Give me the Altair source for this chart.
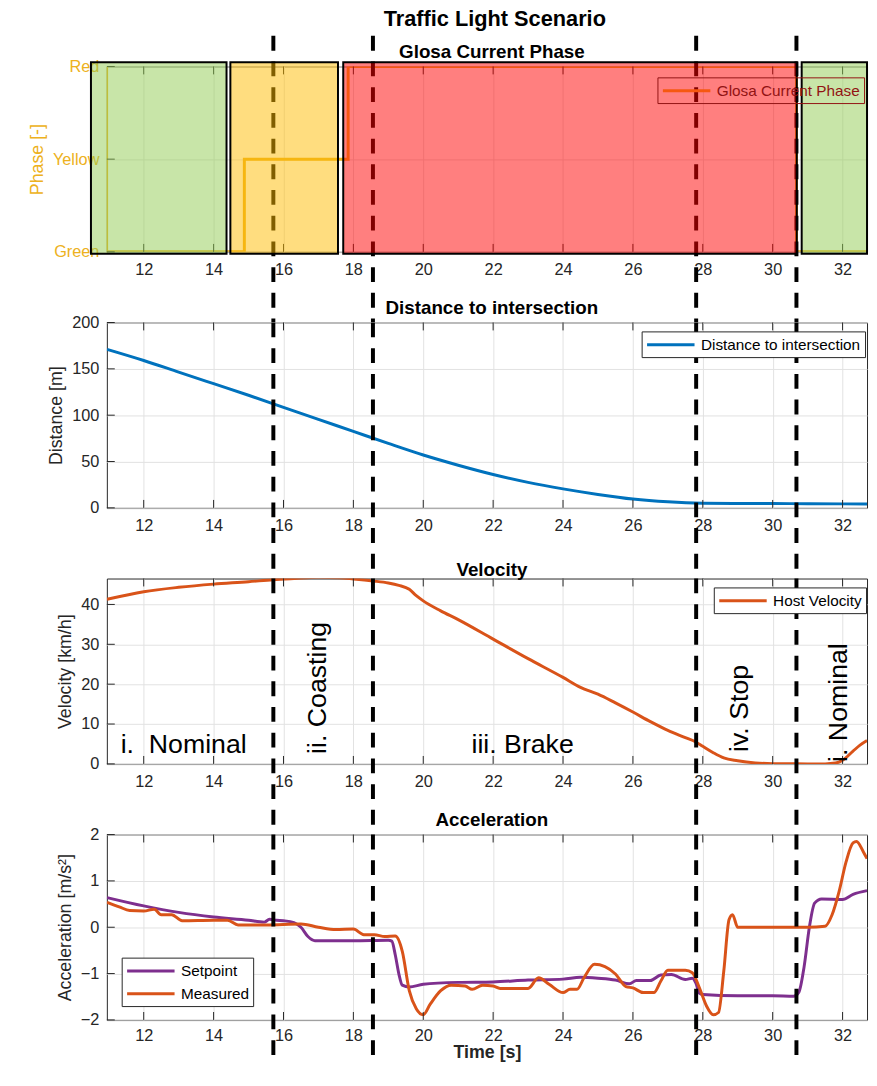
import altair as alt
import pandas as pd

# ---------------- data ----------------
x_ticks = [12, 14, 16, 18, 20, 22, 24, 26, 28, 30, 32]
x_domain = [10.945, 32.70]

phase_levels = [0, 1, 2]
phase_names = ["Green", "Yellow", "Red"]
phase_step_t = [10.95, 14.88, 17.85, 30.68, 32.70]
phase_step_v = [0, 1, 2, 0, 0]

light_names = ["Green", "Yellow", "Red", "Green"]
light_start = [10.49, 14.48, 17.71, 30.83]
light_end = [14.37, 17.56, 30.69, 32.70]
light_colors = ["#92CB51", "#FFBB00", "#FF0000", "#92CB51"]
light_low = -0.02
light_high = 2.045

boundary_t = [15.71, 18.56, 27.81, 30.68]

dist_t = [10.95, 12, 13, 14, 15, 16, 17, 18, 19, 20, 21, 22, 23, 24, 25, 26, 27, 28, 29, 30, 31, 32, 32.70]
dist_v = [171, 159, 146.5, 134, 121.5, 108.5, 95.5, 82.5, 69.5, 57, 46, 36, 27.5, 20.5, 14.5, 9.5, 6.5, 5, 4.7, 4.6, 4.5, 4.3, 4.05]

vel_t = [10.95, 12, 13, 14, 15, 15.7, 16.3, 17, 17.6, 18, 18.56, 19, 19.3, 19.6, 19.8, 20, 20.5, 21, 22, 23, 24,
         24.5, 25, 25.5, 26, 26.5, 27, 27.5, 27.8, 28, 28.3, 28.6, 29, 29.5, 30, 31, 31.5, 31.8, 32, 32.3, 32.5, 32.70]
vel_v = [41.3, 43.2, 44.3, 45.1, 45.7, 46.2, 46.5, 46.8, 46.7, 46.4, 45.9, 45.4, 44.8, 43.8, 42.2, 40.9, 38.4, 36.2, 31.3, 26.4, 21.7,
         19.2, 17.5, 15.3, 13, 10.6, 8.4, 6.6, 5.5, 4.4, 2.8, 1.5, 0.8, 0.25, 0.05, 0, 0, 0.2, 0.9, 3.2, 4.7, 5.85]

sp_t = [10.95, 12, 13, 14, 15, 15.45, 15.6, 15.8, 16, 16.3, 16.5, 16.7, 16.9, 18, 19, 19.1, 19.2, 19.3, 19.4, 19.6, 20,
        21, 22, 23, 24, 24.5, 25, 25.5, 25.9, 26.1, 26.5, 26.8, 27.1, 27.5, 27.7, 27.8, 27.9, 28, 29, 30, 30.6, 30.75,
        30.9, 31.05, 31.2, 31.4, 32, 32.3, 32.70]
sp_v = [0.64, 0.46, 0.32, 0.22, 0.15, 0.11, 0.17, 0.15, 0.14, 0.1, 0.0, -0.2, -0.29, -0.29, -0.28, -0.3, -0.6, -1.0, -1.25, -1.29, -1.23,
        -1.19, -1.18, -1.14, -1.12, -1.08, -1.1, -1.14, -1.22, -1.15, -1.15, -1.03, -1.02, -1.13, -1.1, -1.2, -1.42, -1.45, -1.48, -1.48, -1.49, -1.4,
        -0.85, 0.0, 0.52, 0.61, 0.6, 0.71, 0.79]

ms_t = [10.95, 11.3, 11.6, 12, 12.3, 12.5, 12.8, 13.1, 14, 14.4, 14.7, 15.5, 16.5, 17, 17.5, 18, 18.3, 18.6, 18.9, 19.2,
        19.4, 19.6, 19.8, 20, 20.2, 20.5, 20.8, 21.2, 21.4, 21.7, 22, 22.2, 23, 23.3, 23.6, 24, 24.2, 24.4, 24.6, 24.9,
        25.2, 25.5, 25.8, 26, 26.3, 26.6, 26.8, 27, 27.5, 27.7, 27.9, 28.1, 28.3, 28.45, 28.6, 28.75, 28.85, 29, 30,
        31, 31.5, 31.7, 31.9, 32.1, 32.3, 32.4, 32.6, 32.70]
ms_v = [0.54, 0.44, 0.36, 0.35, 0.39, 0.27, 0.27, 0.14, 0.15, 0.15, 0.05, 0.05, 0.07, 0.0, -0.05, -0.04, -0.16, -0.16, -0.2, -0.19,
        -0.52, -1.37, -1.76, -1.89, -1.66, -1.37, -1.25, -1.27, -1.34, -1.25, -1.27, -1.32, -1.32, -1.09, -1.23, -1.41, -1.34, -1.34, -1.09, -0.8,
        -0.85, -1.01, -1.28, -1.31, -1.41, -1.41, -1.16, -0.93, -0.93, -0.98, -1.3, -1.69, -1.89, -1.84, -0.95, 0.16, 0.27, 0.0, 0.0,
        0.0, 0.02, 0.27, 0.77, 1.41, 1.82, 1.85, 1.62, 1.48]

label_text = ["i. \u00a0Nominal", "ii. Coasting", "iii. Brake", "iv. Stop", "i. Nominal"]
label_t = [11.34, 17.21, 21.38, 29.29, 32.12]
label_v = [2.8, 2.5, 2.8, 3.0, 0.5]
label_angle = [0, 270, 0, 270, 270]

# ---------------- layout / style ----------------
W, H, GAP = 769, 187.5, 71
TICK = 8
FONT = "Liberation Sans"
AX = "#262626"
GOLD = "#EDB120"
LEG_SYMBOL = "M-1,0H5"

xscale = alt.Scale(domain=x_domain, nice=False, zero=False)

step_df = pd.DataFrame({"t": phase_step_t, "v": phase_step_v})
light_df = pd.DataFrame({"name": light_names, "t0": light_start, "t1": light_end,
                         "c": light_colors, "lo": light_low, "hi": light_high})
bound_df = pd.DataFrame({"t": boundary_t})
xtick_df = pd.DataFrame({"t": x_ticks})
dist_df = pd.DataFrame({"t": dist_t, "v": dist_v, "s": "Distance to intersection"})
vel_df = pd.DataFrame({"t": vel_t, "v": vel_v, "s": "Host Velocity"})
acc_df = pd.concat([
    pd.DataFrame({"t": sp_t, "v": sp_v, "s": "Setpoint"}),
    pd.DataFrame({"t": ms_t, "v": ms_v, "s": "Measured"}),
])
lab_df = pd.DataFrame({"txt": label_text, "t": label_t, "v": label_v, "a": label_angle})
phase_leg_df = pd.DataFrame({"t": [phase_step_t[0]], "v": [phase_levels[-1]], "s": ["Glosa Current Phase"]})


def main_x_axis(title=None):
    kw = dict(orient="bottom", values=x_ticks, grid=True, tickSize=0, domain=False,
              labelPadding=10, format="d")
    if title:
        kw.update(title=title, titleFontWeight="bold", titlePadding=0, labelPadding=8)
    else:
        kw.update(title=None)
    return alt.Axis(**kw)


def inner_ticks(yscale, y_ticks):
    """MATLAB-style inward tick marks at the bottom, top and left edges."""
    xt = alt.X("t:Q", scale=xscale, axis=None)
    bottom = alt.Chart(xtick_df).mark_rule(color=AX, strokeWidth=1).encode(
        x=xt, y=alt.value(H - TICK), y2=alt.value(H))
    top = alt.Chart(xtick_df).mark_rule(color=AX, strokeWidth=1).encode(
        x=xt, y=alt.value(0), y2=alt.value(TICK))
    left = alt.Chart(pd.DataFrame({"v": y_ticks})).mark_rule(color=AX, strokeWidth=1).encode(
        y=alt.Y("v:Q", scale=yscale, axis=None), x=alt.value(0), x2=alt.value(TICK))
    return [bottom, top, left]


def rules(y_top, y_bot):
    return alt.Chart(bound_df).mark_rule(color="black", strokeWidth=4, strokeDash=[15, 11]).encode(
        x=alt.X("t:Q", scale=xscale, axis=None),
        y=alt.value(y_top), y2=alt.value(y_bot),
    )


def legend(lx, ly, fill="white", label_color="black", stroke=AX):
    kw = dict(orient="none", legendX=lx, legendY=ly, title=None, strokeColor=stroke,
              padding=4, symbolType=LEG_SYMBOL, symbolSize=256, symbolStrokeWidth=3,
              labelFontSize=15.5, labelColor=label_color, labelOffset=37, rowPadding=5,
              labelFont=FONT, labelLimit=400)
    if fill:
        kw["fillColor"] = fill
    return alt.Legend(**kw)


def panel_title(text, dy):
    return alt.TitleParams(text, fontSize=19, fontWeight="bold", color="black", font=FONT,
                           anchor="middle", dx=5, offset=6, dy=dy)


def panel(layers, title, dy):
    return alt.layer(*layers).resolve_axis(x="independent", y="independent").properties(
        width=W, height=H, title=panel_title(title, dy))


# ---------- panel 1: phase ----------
y1 = alt.Scale(domain=[0, 2], nice=False, zero=False)
label_expr = " : ".join(f"datum.value == {lv} ? '{nm}'" for lv, nm in zip(phase_levels[:-1], phase_names[:-1])) \
    + f" : '{phase_names[-1]}'"
p1_step = alt.Chart(step_df).mark_line(interpolate="step-after", color=GOLD, strokeWidth=3, clip=True).encode(
    x=alt.X("t:Q", scale=xscale, axis=main_x_axis()),
    y=alt.Y("v:Q", scale=y1, axis=alt.Axis(orient="left", values=phase_levels, labelExpr=label_expr, grid=True,
                                           tickSize=0, domain=True, domainColor=GOLD, domainWidth=1.5,
                                           labelColor=GOLD, titleColor=GOLD, labelPadding=8,
                                           title="Phase [-]", titlePadding=6)),
)
p1_leg = alt.Chart(phase_leg_df).mark_line(strokeWidth=3).encode(
    x=alt.X("t:Q", scale=xscale, axis=None),
    y=alt.Y("v:Q", scale=y1, axis=None),
    color=alt.Color("s:N", scale=alt.Scale(domain=["Glosa Current Phase"], range=["#F65810"]),
                    legend=legend(557, 11, fill=None, label_color="#921313", stroke="#921313")),
)
p1_rect = alt.Chart(light_df).mark_rect(fillOpacity=0.5, stroke="black", strokeWidth=2).encode(
    x=alt.X("t0:Q", scale=xscale, axis=None), x2="t1:Q",
    y=alt.Y("lo:Q", scale=y1, axis=None), y2="hi:Q",
    fill=alt.Fill("c:N", scale=None),
)
p1 = panel([p1_step, *inner_ticks(y1, phase_levels), p1_leg, rules(-31, H + GAP), p1_rect],
           "Glosa Current Phase", 34)

# ---------- panel 2: distance ----------
y2 = alt.Scale(domain=[0, 200], nice=False)
y2_ticks = [0, 50, 100, 150, 200]
p2_line = alt.Chart(dist_df).mark_line(strokeWidth=3, interpolate="monotone", clip=True).encode(
    x=alt.X("t:Q", scale=xscale, axis=main_x_axis()),
    y=alt.Y("v:Q", scale=y2, axis=alt.Axis(orient="left", values=y2_ticks, grid=True, tickSize=0, domain=False,
                                           labelPadding=8, title="Distance [m]", titlePadding=6)),
    color=alt.Color("s:N", scale=alt.Scale(domain=["Distance to intersection"], range=["#0072BD"]),
                    legend=legend(541, 9)),
)
p2 = panel([p2_line, *inner_ticks(y2, y2_ticks), rules(0, H + GAP)], "Distance to intersection", 9)

# ---------- panel 3: velocity ----------
y3 = alt.Scale(domain=[0, 46.5], nice=False)
y3_ticks = [0, 10, 20, 30, 40]
p3_line = alt.Chart(vel_df).mark_line(strokeWidth=3, interpolate="monotone", clip=True).encode(
    x=alt.X("t:Q", scale=xscale, axis=main_x_axis()),
    y=alt.Y("v:Q", scale=y3, axis=alt.Axis(orient="left", values=y3_ticks, grid=True, tickSize=0, domain=False,
                                           labelPadding=8, title="Velocity [km/h]", titlePadding=6)),
    color=alt.Color("s:N", scale=alt.Scale(domain=["Host Velocity"], range=["#D95319"]),
                    legend=legend(614, 9)),
)
p3_text = alt.Chart(lab_df).mark_text(fontSize=27, align="left", baseline="alphabetic", color="black",
                                      font=FONT).encode(
    x=alt.X("t:Q", scale=xscale, axis=None),
    y=alt.Y("v:Q", scale=y3, axis=None),
    text="txt:N",
    angle=alt.Angle("a:Q", scale=None),
)
p3 = panel([p3_line, *inner_ticks(y3, y3_ticks), p3_text, rules(0, H + GAP)], "Velocity", 9)

# ---------- panel 4: acceleration ----------
y4 = alt.Scale(domain=[-2, 2], nice=False)
y4_ticks = [-2, -1, 0, 1, 2]
p4_line = alt.Chart(acc_df).mark_line(strokeWidth=3, interpolate="monotone", clip=True).encode(
    x=alt.X("t:Q", scale=xscale, axis=main_x_axis("Time [s]")),
    y=alt.Y("v:Q", scale=y4, axis=alt.Axis(orient="left", values=y4_ticks, grid=True, tickSize=0, domain=False,
                                           labelPadding=8, title="Acceleration [m/s²]", titlePadding=6)),
    color=alt.Color("s:N", scale=alt.Scale(domain=["Setpoint", "Measured"], range=["#7E2F8E", "#D95319"]),
                    legend=legend(15, 124.5)),
)
p4 = panel([p4_line, *inner_ticks(y4, y4_ticks), rules(0, 224)], "Acceleration", 9)

chart = alt.vconcat(
    p1, p2, p3, p4, spacing=GAP, bounds="flush",
    title=alt.TitleParams("Traffic Light Scenario", fontSize=22, fontWeight="bold", color="black", font=FONT,
                          anchor="middle", dx=47, offset=2),
).resolve_scale(x="independent", y="independent", color="independent").resolve_legend(
    color="independent"
).properties(
    padding={"left": 20, "top": -6, "right": 0, "bottom": 0}
).configure(font=FONT).configure_axis(
    labelFont=FONT, titleFont=FONT, labelFontSize=16.5, titleFontSize=18, titleFontWeight="normal",
    labelColor=AX, titleColor=AX, gridColor="#e2e2e2", gridWidth=1, tickColor=AX, domainColor=AX,
).configure_view(stroke=AX, strokeWidth=1)

chart.save("out.html", embed_options={"renderer": "svg", "actions": False})
